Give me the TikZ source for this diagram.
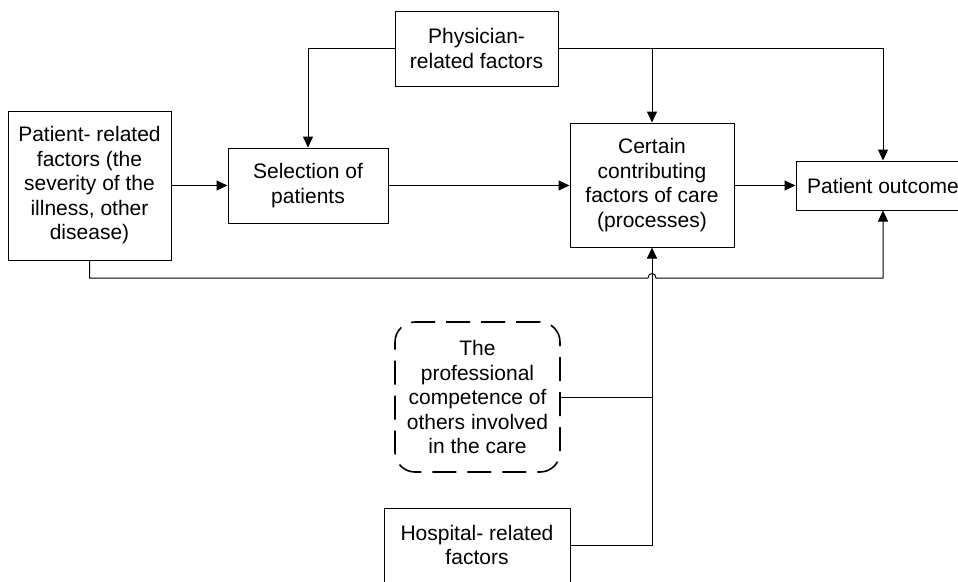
\documentclass[tikz,border=0pt]{standalone}
\usepackage{fontspec}
\setmainfont{Liberation Sans}
\usetikzlibrary{arrows.meta}
\begin{document}
\begin{tikzpicture}[x=1pt,y=-1pt,
  box/.style={draw=black,line width=1pt,fill=white,inner sep=0pt,align=center,
    font=\fontsize{21}{24.5}\selectfont},
  dashbox/.style={box,line width=1.6pt,rounded corners=20pt,dash pattern=on 24pt off 11pt},
  link/.style={line width=1pt},
  arr/.style={link,-{Triangle[length=11pt,width=10pt]}}]
\useasboundingbox (0,0) rectangle (958,581);
\clip (0,0) rectangle (958,581);
\fill[white] (0,0) rectangle (958,581);

% boxes
\node[box,minimum width=163pt,minimum height=75pt] (phys) at (476.5,48.5) {Physician-\\related factors};
\node[box,minimum width=163pt,minimum height=149pt] (pat) at (89.5,185.5) {Patient- related\\factors (the\\severity of the\\illness, other\\disease)};
\node[box,minimum width=160pt,minimum height=75pt] (sel) at (308,185.5) {Selection of\\patients};
\node[box,minimum width=164pt,minimum height=124pt] (cert) at (652,185) {Certain\\contributing\\factors of care\\(processes)};
\node[box,minimum width=174pt,minimum height=49pt] (out) at (883,185.5) {Patient outcome};
\node[dashbox,minimum width=165pt,minimum height=150pt] (comp) at (477.5,397) {The\\professional\\competence of\\others involved\\in the care};
\node[box,minimum width=186pt,minimum height=74pt] (hosp) at (477,545) {Hospital- related\\factors};

% physician-related influences
\draw[arr] (phys.west) -| (sel.north);
\draw[arr] (phys.east) -| (out.north);
\draw[arr] (cert.north |- phys.east) -- (cert.north);

% main chain
\draw[arr] (pat.east) -- (sel.west);
\draw[arr] (sel.east) -- (cert.west |- sel.east);
\draw[arr] (cert.east |- out.west) -- (out.west);

% patient factors straight to outcome, hopping over the vertical feed
\coordinate (h1) at (648,278);
\coordinate (h2) at (656,278);
\draw[arr] (pat.south) |- (h1) .. controls (648,272) and (656,272) .. (h2) -| (out.south);

% other influences on care processes
\draw[link] (comp.east) -- (cert.south |- comp.east);
\draw[arr] (hosp.east) -| (cert.south);
\end{tikzpicture}
\end{document}
